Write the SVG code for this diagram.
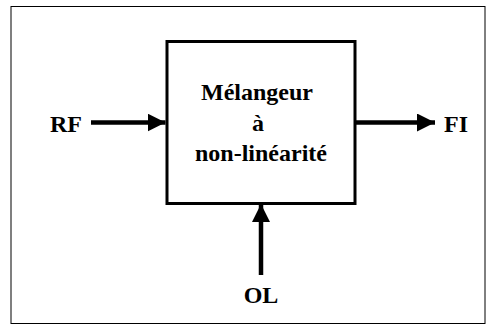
<svg xmlns="http://www.w3.org/2000/svg" width="486" height="325" viewBox="0 0 486 325">
<style>
.t{font-weight:bold;font-size:24px;fill:#000}
.c{stroke:#000;stroke-width:4.5;fill:none}
</style>
<defs>
<marker id="ah" markerWidth="4" markerHeight="4" refX="4" refY="2" orient="auto" markerUnits="strokeWidth"><path d="M0,0 L4,2 L0,4 Z" fill="#000"/></marker>
</defs>
<rect x="0" y="0" width="486" height="325" fill="#fff"/>
<rect x="11" y="6.5" width="474" height="317" fill="none" stroke="#000" stroke-width="1"/>
<g font-family="Liberation Serif, Tinos, Times New Roman, DejaVu Serif, serif">
<g id="mixer">
<rect x="167" y="41.5" width="188" height="162" fill="#fff" stroke="#000" stroke-width="3"/>
<text class="t" x="257" y="100" text-anchor="middle">Mélangeur</text>
<text class="t" x="258" y="131" text-anchor="middle">à</text>
<text class="t" x="261" y="161" text-anchor="middle">non-linéarité</text>
</g>
<g id="rf"><text class="t" x="50" y="132">RF</text></g>
<g id="fi"><text class="t" x="444" y="132">FI</text></g>
<g id="ol"><text class="t" x="261" y="303" text-anchor="middle">OL</text></g>
</g>
<g id="connectors">
<line class="c" x1="91" y1="122.5" x2="165.5" y2="122.5" marker-end="url(#ah)"/>
<line class="c" x1="356" y1="122.5" x2="435" y2="122.5" marker-end="url(#ah)"/>
<line class="c" x1="261" y1="275" x2="261" y2="204" marker-end="url(#ah)"/>
</g>
</svg>
